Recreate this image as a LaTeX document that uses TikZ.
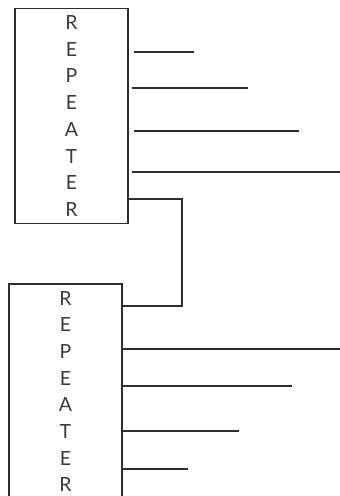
\documentclass[tikz,border=0pt]{standalone}
\usepackage{fontspec}
\setsansfont{Lato}
\usetikzlibrary{positioning, calc}
\definecolor{cline}{HTML}{2E2E2E}
\definecolor{ctext}{HTML}{3A3A3A}
\tikzset{
  every picture/.style={font=\sffamily, line width=1.2pt},
  repbox/.style={draw=cline, line width=1.1pt, minimum width=113pt, minimum height=215pt,
    align=center, inner sep=0pt, text=ctext, font=\sffamily\fontsize{19.5}{26.7}\selectfont},
  tap/.style={draw=cline, line width=1.4pt},
}

\begin{document}
\begin{tikzpicture}[x=1pt, y=-1pt]
  \clip (0,0) rectangle (340,496);
  \node[repbox] (top) at (71.5,116) {R\\E\\P\\E\\A\\T\\E\\R};
  \node[repbox] (bot) at (65.5,391.5) {R\\E\\P\\E\\A\\T\\E\\R};
  % outputs of the upper repeater
  \foreach \y/\g/\e in {52/5/194, 88/3/248, 131/5/299, 172/3/340}
    \draw[tap] ([xshift=\g pt]top.east |- 0,\y) coordinate (t\y) -- (\e,\y);
  % link between the two
  \coordinate (bend) at (182,199);
  \draw[tap, line width=1.3pt] (top.east |- bend) -- (bend) -- (bend |- 0,306)
    -- ([xshift=-2pt]bot.east |- 0,306);
  % outputs of the lower repeater
  \foreach \y/\e in {349/340, 386/292, 431/239, 469/188}
    \draw[tap] ([xshift=-2pt]bot.east |- 0,\y) coordinate (b\y) -- (\e,\y);
\end{tikzpicture}
\end{document}
